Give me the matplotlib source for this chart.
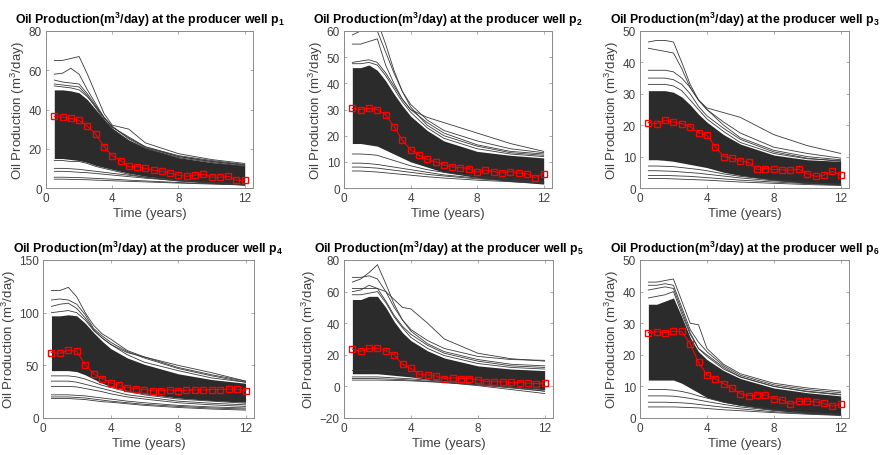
import matplotlib
matplotlib.use("Agg")
import matplotlib.pyplot as plt

plt.rcParams['font.family'] = ['Liberation Sans', 'DejaVu Sans']
plt.rcParams['mathtext.fontset'] = 'custom'
plt.rcParams['mathtext.rm'] = 'Liberation Sans'
plt.rcParams['mathtext.bf'] = 'Liberation Sans:bold'
plt.rcParams['mathtext.it'] = 'Liberation Sans:italic'

# time axis of the observed data (years) and of the ensemble knots
t_obs = [0.5, 1.0, 1.5, 2.0, 2.5, 3.0, 3.5, 4.0, 4.5, 5.0, 5.5, 6.0,
         6.5, 7.0, 7.5, 8.0, 8.5, 9.0, 9.5, 10.0, 10.5, 11.0, 11.5, 12.0]
t_ens = [0.5, 1.0, 1.5, 2.0, 2.5, 3.0, 3.5, 4.0, 5.0, 6.0, 8.0, 10.0, 12.0]

# observed production (red squares)
obs_p1 = [36.5, 36, 35.5, 34.5, 31.5, 27.5, 21, 16.5, 14, 11, 10.8, 10,
          9, 8.5, 7.5, 6.5, 6, 6.5, 7, 5.5, 5.5, 6, 4, 4]
obs_p2 = [30.4, 30, 30.5, 30, 28, 23.5, 18.3, 14.7, 12.5, 11, 10, 8.8,
          8, 7.8, 7.4, 6, 6.9, 6.3, 5.7, 6.3, 5.7, 5.4, 4, 5.5]
obs_p3 = [20.8, 20.5, 21.5, 21, 20.5, 19.5, 17.6, 16.8, 13.2, 10, 9.5, 8.6,
          8.2, 5.9, 6.2, 5.9, 5.8, 5.7, 6, 4.6, 3.7, 4, 5.3, 4.1]
obs_p4 = [62, 61.3, 64.5, 63.2, 50.6, 42, 37.4, 33.3, 31.1, 28.9, 28, 27,
          25.8, 25.8, 26.7, 25.8, 26.4, 26.7, 26.7, 27, 27, 27.4, 27.4, 25.8]
obs_p5 = [23.6, 22.1, 24, 24.2, 22.5, 20, 14, 11.4, 7.7, 7.2, 6.6, 5,
          5.4, 5, 5, 4.3, 3, 3, 3, 2.6, 2.4, 2, 1.8, 2]
obs_p6 = [27, 27.3, 27, 27.4, 27.4, 23.5, 17.6, 13.7, 12.4, 10.9, 9.4, 7.7,
          7.1, 7.3, 7.3, 6.1, 5.7, 4.4, 5.3, 5.3, 5.1, 4.6, 3.7, 4.4]

# dense core of the ensemble (lower / upper edge)
core_lo_p1 = [15, 15, 14.5, 14, 13, 11.5, 10.5, 9.5, 7.5, 6, 4, 2.5, 1.5]
core_hi_p1 = [50, 50, 49.5, 48.5, 45, 40, 35, 30.5, 24.5, 20.5, 15.5, 13, 11.5]
core_lo_p2 = [17, 17, 16.5, 16, 14.5, 13, 11.5, 10, 8, 6, 4, 2.5, 1.5]
core_hi_p2 = [46, 46, 47, 45, 41, 36, 31.5, 27.5, 22, 18, 14, 12.5, 11.5]
core_lo_p3 = [9, 9, 8.8, 8.5, 8, 7.5, 7, 6.5, 5, 4, 2.5, 1.5, 1]
core_hi_p3 = [31, 31, 31, 30.5, 29, 26.5, 23.5, 21, 17, 14, 10.5, 9, 8.5]
core_lo_p4 = [45, 45, 45, 44, 41, 37, 33, 30, 26, 23, 19, 16.5, 15]
core_hi_p4 = [97, 97, 98, 97, 90, 81, 73, 66, 57, 51, 42, 36.5, 33]
core_lo_p5 = [8, 8, 8, 8, 7.5, 7, 6.5, 6, 4.5, 3.5, 1.5, 0, -2]
core_hi_p5 = [55, 55, 57, 57, 50, 41, 34, 29, 22.5, 18, 13, 11, 10]
core_lo_p6 = [12, 12, 12, 12, 11, 9.5, 8, 6.5, 5, 4, 2.5, 1.5, 1]
core_hi_p6 = [36, 36, 37, 38, 32, 25.5, 21, 18.5, 15, 12.5, 9.5, 8, 7]

# individual ensemble members visible around the core
members_p1 = [
    [65, 65, 66, 67, 58, 48, 38, 32, 30, 23, 17.5, 14.5, 12.5],
    [58, 58.5, 61, 58, 50, 43, 36, 31, 26, 21, 16.5, 14, 12],
    [55, 54, 53.5, 53, 48, 42, 36, 31, 25.5, 21, 16, 13.5, 11.5],
    [53, 52.5, 52, 51.5, 47, 41, 35, 30, 24, 20, 15.5, 13, 11],
    [52, 51.5, 51, 50, 46.5, 41.5, 36, 31.5, 25, 20.5, 16, 13.5, 11.8],
    [14, 14, 13.5, 13.5, 12.5, 11, 10, 9, 7, 5.5, 3.5, 2.5, 1.5],
    [10, 10, 9.8, 9.5, 9, 8.5, 8, 7.5, 6.5, 5.5, 4, 3, 2.2],
    [8.5, 8.5, 8.3, 8, 7.8, 7.4, 7, 6.6, 5.8, 5, 3.7, 2.8, 2],
    [5.5, 5.5, 5.4, 5.3, 5.1, 4.9, 4.7, 4.5, 4, 3.6, 2.8, 2.2, 1.7],
    [4.5, 4.5, 4.4, 4.3, 4.2, 4, 3.9, 3.7, 3.4, 3.1, 2.5, 2, 1.5],
]
members_p2 = [
    [58.5, 60, 62, 64, 55, 45, 37, 32, 26, 22, 18, 15, 13.5],
    [55, 55, 56, 57, 47, 40, 34, 30, 27, 25, 21, 17, 14],
    [48, 48.5, 49, 48, 44, 39, 34, 30, 25, 21, 16.5, 14, 13],
    [47.5, 47.5, 48, 47, 43, 38, 33, 29, 23, 19, 15, 13, 12],
    [64, 63, 62, 60, 52, 44, 37, 31, 24, 20, 16, 13.5, 12.5],
    [13, 13, 12.8, 12.5, 11.5, 10.5, 9.5, 8.5, 7, 6, 4.5, 3.5, 2.5],
    [9.5, 9.5, 9.3, 9, 8.5, 8, 7.5, 7, 6, 5, 3.8, 3, 2.2],
    [8, 8, 7.8, 7.6, 7.2, 6.8, 6.4, 6, 5.2, 4.6, 3.5, 2.7, 2],
    [6.5, 6.5, 6.3, 6.1, 5.8, 5.5, 5.2, 4.9, 4.3, 3.8, 3, 2.4, 1.8],
]
members_p3 = [
    [46.5, 47, 47, 46.5, 40, 33, 28, 25.5, 24, 22.5, 17, 13.5, 11],
    [44.5, 44, 43.5, 43, 38, 32, 28, 25, 21, 17.5, 13, 11, 9.5],
    [37.5, 37.5, 37.5, 37, 35, 32, 28, 25, 20, 16, 12, 10, 9],
    [35, 35, 35, 34.5, 33, 30, 26, 23, 19, 15.5, 11.5, 9.5, 8.5],
    [33, 33, 33, 32.5, 31, 28, 25, 22, 18, 14.5, 11, 9.3, 8.7],
    [7, 7, 6.9, 6.8, 6.5, 6.2, 5.9, 5.5, 4.5, 3.7, 2.6, 1.8, 1.2],
    [5.5, 5.5, 5.4, 5.3, 5.1, 4.9, 4.7, 4.4, 3.8, 3.2, 2.3, 1.6, 1.1],
    [4, 4, 4, 3.9, 3.8, 3.7, 3.5, 3.3, 2.9, 2.5, 1.9, 1.4, 1],
    [3, 3, 3, 2.9, 2.8, 2.7, 2.6, 2.5, 2.2, 1.9, 1.5, 1.1, 0.8],
]
members_p4 = [
    [121, 121, 124, 115, 100, 88, 80, 75, 64, 58, 48, 41, 35],
    [112, 113, 112, 108, 98, 85, 78, 72, 63, 57, 47, 40, 34],
    [106, 108, 109, 104, 95, 84, 76, 70, 60, 53, 45, 38, 34],
    [100, 101, 102, 100, 93, 83, 76, 70, 62, 58, 50, 43, 35],
    [40, 40, 40, 39, 37, 34, 31, 29, 25, 22, 18, 16, 14],
    [35, 35, 35, 34, 32, 30, 28, 26, 22, 20, 16, 14, 12.5],
    [30, 30, 30, 29.5, 28, 26.5, 25, 23, 20, 18, 14.5, 12.5, 11],
    [22, 22, 22, 21.5, 21, 20, 19, 18, 16, 14.5, 12, 10.5, 9.5],
    [20, 20, 20, 19.5, 19, 18, 17, 16, 14.5, 13, 11, 9.5, 8.5],
    [18.5, 18.5, 18.5, 18, 17.5, 16.5, 15.5, 15, 13.5, 12, 10, 8.5, 7.5],
]
members_p5 = [
    [66, 68, 72, 77, 65, 52, 42, 35, 27, 22, 17, 14, 13],
    [62, 62, 62, 62, 60, 55, 50, 49, 40, 30, 21, 17.5, 16],
    [69, 69, 70, 68, 60, 50, 42, 36, 29, 24, 19, 17, 16.5],
    [60, 61, 64, 62, 54, 45, 38, 33, 26, 21, 16, 13, 12],
    [58, 58, 59, 60, 53, 44, 37, 31, 24, 19.5, 14.5, 12, 11],
    [10, 10, 10, 9.8, 9.5, 9, 8.4, 7.8, 6, 4.5, 2, -0.5, -3],
    [6, 6, 6, 6, 5.7, 5.4, 5.1, 4.8, 4, 3, 1, -1, -3],
    [5, 5, 5, 4.9, 4.7, 4.5, 4.3, 4, 3.3, 2.5, 0.5, -2, -4.5],
    [4, 4, 4, 4, 3.9, 3.8, 3.7, 3.5, 3, 2.4, 1, -0.5, -2],
]
members_p6 = [
    [43, 43, 43.5, 44, 37, 30, 29.5, 22, 17, 14, 11, 9.5, 8.5],
    [42, 42, 42.5, 42, 35, 28, 24, 21, 16.5, 13.5, 10.5, 9, 8],
    [40.5, 41, 41.5, 41, 34, 27, 22, 20, 16, 13, 10, 8.5, 7.5],
    [38, 38.5, 39, 40, 33, 26.5, 22, 19.5, 15.5, 13, 10, 8.3, 7.3],
    [9, 9, 9, 8.8, 8.4, 7.8, 7, 6.3, 5, 4, 2.7, 1.8, 1.2],
    [7, 7, 7, 6.9, 6.6, 6.2, 5.7, 5.2, 4.3, 3.5, 2.4, 1.6, 1],
    [5, 5, 5, 4.9, 4.8, 4.6, 4.3, 4, 3.4, 2.9, 2, 1.4, 0.9],
    [3.5, 3.5, 3.5, 3.5, 3.4, 3.3, 3.2, 3, 2.6, 2.3, 1.7, 1.2, 0.8],
]

panels = [
    (1, obs_p1, core_lo_p1, core_hi_p1, members_p1, (0, 80), [0, 20, 40, 60, 80]),
    (2, obs_p2, core_lo_p2, core_hi_p2, members_p2, (0, 60), [0, 10, 20, 30, 40, 50, 60]),
    (3, obs_p3, core_lo_p3, core_hi_p3, members_p3, (0, 50), [0, 10, 20, 30, 40, 50]),
    (4, obs_p4, core_lo_p4, core_hi_p4, members_p4, (0, 150), [0, 50, 100, 150]),
    (5, obs_p5, core_lo_p5, core_hi_p5, members_p5, (-20, 80), [-20, 0, 20, 40, 60, 80]),
    (6, obs_p6, core_lo_p6, core_hi_p6, members_p6, (0, 50), [0, 10, 20, 30, 40, 50]),
]

W, H = 889, 456
# axes boxes in pixels: left, top, width, height
boxes = [(46, 32, 207, 157), (344, 32, 208, 157), (640, 32, 209, 157),
         (43, 261, 211, 158), (344, 261, 209, 158), (640, 261, 209, 158)]

fig = plt.figure(figsize=(W / 100, H / 100), dpi=100)
axis_col = '#8a8a8a'
text_col = '#404040'
ens_col = '#2b2b2b'

for (num, obs, lo, hi, members, ylim, yticks), (l, t, w, h) in zip(panels, boxes):
    ax = fig.add_axes([l / W, 1 - (t + h) / H, w / W, h / H])
    ax.fill_between(t_ens, lo, hi, color=ens_col, lw=0)
    for m in members:
        ax.plot(t_ens, m, color='#383838', lw=0.6)
    ax.plot(t_obs, obs, color='red', lw=0.8, marker='s', ms=5,
            mfc='none', mec='red', mew=1.0)

    ax.set_xlim(0, 12.5)
    ax.set_ylim(*ylim)
    ax.set_xticks([0, 4, 8, 12])
    ax.set_yticks(yticks)
    ax.tick_params(direction='in', length=2.5, width=0.5, top=True, right=True,
                   colors=axis_col, labelcolor=text_col, labelsize=8.5, pad=3)
    for s in ax.spines.values():
        s.set_color(axis_col)
        s.set_linewidth(0.7)
    ax.set_xlabel('Time (years)', fontsize=9.5, color=text_col, labelpad=2)
    ax.set_ylabel(r'Oil Production (m$^3$/day)', fontsize=9.5, color=text_col, labelpad=1)
    ax.set_title(r'Oil Production(m$^\mathbf{3}$/day) at the producer well p$_\mathbf{%d}$' % num,
                 fontsize=8.8, fontweight='bold', color='black', pad=6)

fig.savefig('out.png', dpi=100)
